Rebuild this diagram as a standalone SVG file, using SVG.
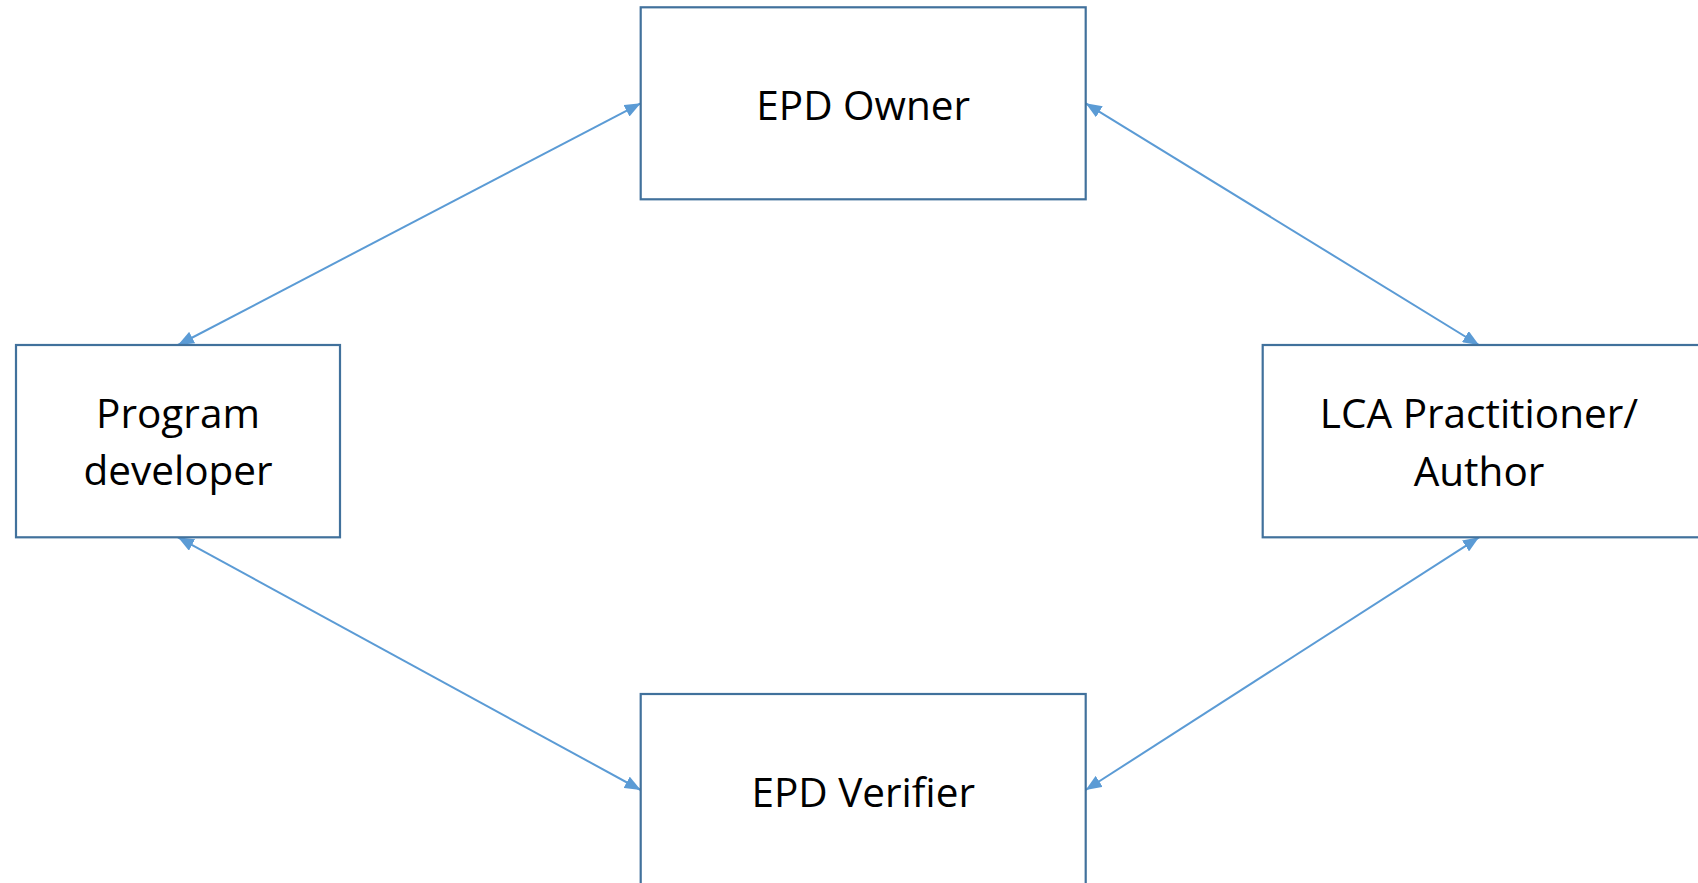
<svg xmlns="http://www.w3.org/2000/svg" width="1698" height="883" viewBox="0 0 1698 883">
<style>
.box{fill:#ffffff;stroke:#41719c;stroke-width:2.2}
.lbl{font-family:"Open Sans","Liberation Sans",sans-serif;font-size:40.5px;fill:#000000;text-anchor:middle}
.conn{stroke:#5b9bd5;stroke-width:2;fill:none;marker-start:url(#ah);marker-end:url(#ah)}
</style>
<defs>
<marker id="ah" viewBox="0 0 16 13" refX="16" refY="6.5" markerWidth="16" markerHeight="13" markerUnits="userSpaceOnUse" orient="auto-start-reverse">
<path d="M0,0 L16,6.5 L0,13 Z" fill="#5b9bd5"/>
</marker>
</defs>
<rect width="1698" height="883" fill="#ffffff"/>
<g id="connectors">
<line class="conn" x1="178" y1="345" x2="640.7" y2="103.3"/>
<line class="conn" x1="1085.7" y1="103.3" x2="1479" y2="345"/>
<line class="conn" x1="178" y1="537.3" x2="640.7" y2="790"/>
<line class="conn" x1="1479" y1="537.3" x2="1085.7" y2="790"/>
</g>
<g id="epd-owner">
<rect class="box" x="640.7" y="7.3" width="445" height="192"/>
<text class="lbl" x="863.2" y="120">EPD Owner</text>
</g>
<g id="program-developer">
<rect class="box" x="16" y="345" width="324" height="192.3"/>
<text class="lbl" x="178" y="428">Program</text>
<text class="lbl" x="178" y="485">developer</text>
</g>
<g id="lca-practitioner">
<rect class="box" x="1262.7" y="345" width="450" height="192.3"/>
<text class="lbl" x="1479" y="428">LCA Practitioner/</text>
<text class="lbl" x="1479" y="486">Author</text>
</g>
<g id="epd-verifier">
<rect class="box" x="640.7" y="694" width="445" height="192"/>
<text class="lbl" x="863.2" y="806.7">EPD Verifier</text>
</g>
</svg>
